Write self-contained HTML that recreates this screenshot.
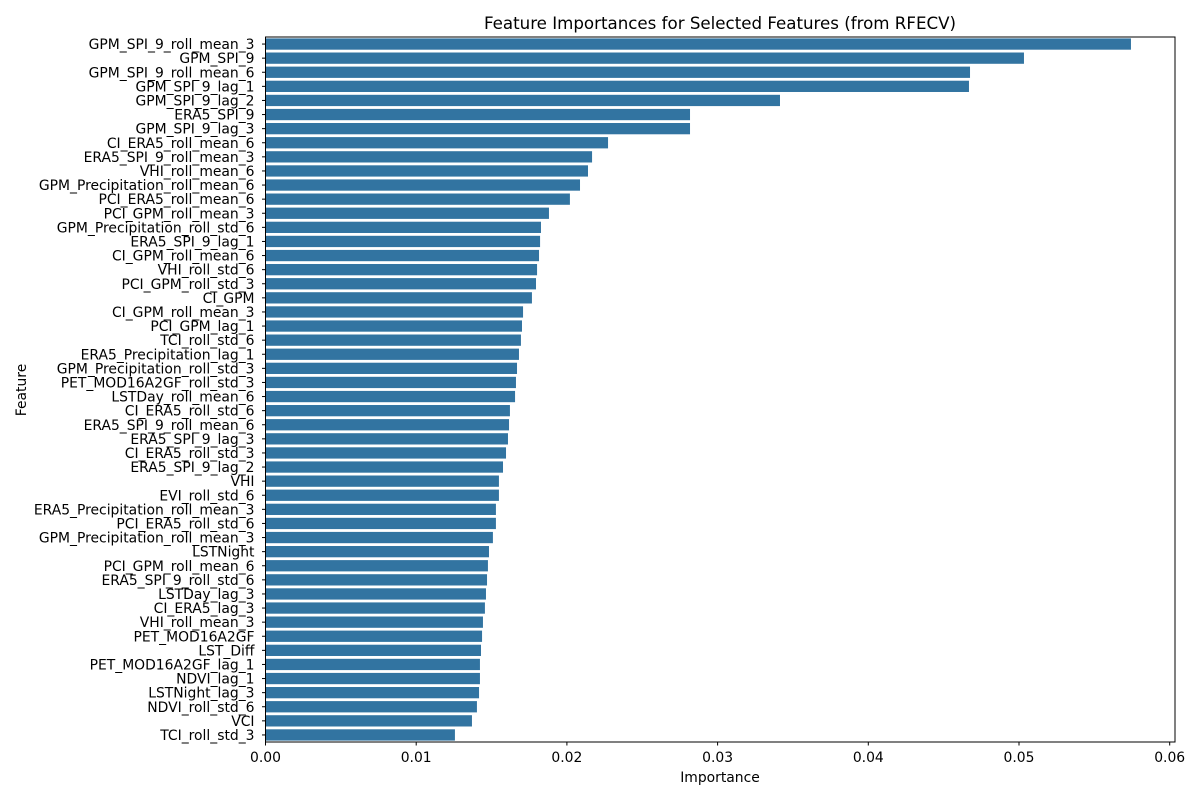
<!DOCTYPE html>
<html><head><meta charset="utf-8"><style>
body{margin:0;background:#fff;}
svg text{font-family:"DejaVu Sans","Liberation Sans",sans-serif;fill:#000;}
</style></head><body>
<svg id="chart" width="1200" height="800">
<text x="720" y="29" font-size="16.67" text-anchor="middle">Feature Importances for Selected Features (from RFECV)</text>
<g id="bars"></g><g id="yticks"></g><g id="xticks"></g>
<rect x="265.5" y="37" width="909.5" height="705" fill="none" stroke="#000" stroke-width="1"/>
<text x="720" y="782" font-size="13.9" text-anchor="middle">Importance</text>
<text x="26" y="390" font-size="13.9" text-anchor="middle" transform="rotate(-90 26 390)">Feature</text>
</svg>
<script>
const features=["GPM_SPI_9_roll_mean_3","GPM_SPI_9","GPM_SPI_9_roll_mean_6","GPM_SPI_9_lag_1","GPM_SPI_9_lag_2","ERA5_SPI_9","GPM_SPI_9_lag_3","CI_ERA5_roll_mean_6","ERA5_SPI_9_roll_mean_3","VHI_roll_mean_6","GPM_Precipitation_roll_mean_6","PCI_ERA5_roll_mean_6","PCI_GPM_roll_mean_3","GPM_Precipitation_roll_std_6","ERA5_SPI_9_lag_1","CI_GPM_roll_mean_6","VHI_roll_std_6","PCI_GPM_roll_std_3","CI_GPM","CI_GPM_roll_mean_3","PCI_GPM_lag_1","TCI_roll_std_6","ERA5_Precipitation_lag_1","GPM_Precipitation_roll_std_3","PET_MOD16A2GF_roll_std_3","LSTDay_roll_mean_6","CI_ERA5_roll_std_6","ERA5_SPI_9_roll_mean_6","ERA5_SPI_9_lag_3","CI_ERA5_roll_std_3","ERA5_SPI_9_lag_2","VHI","EVI_roll_std_6","ERA5_Precipitation_roll_mean_3","PCI_ERA5_roll_std_6","GPM_Precipitation_roll_mean_3","LSTNight","PCI_GPM_roll_mean_6","ERA5_SPI_9_roll_std_6","LSTDay_lag_3","CI_ERA5_lag_3","VHI_roll_mean_3","PET_MOD16A2GF","LST_Diff","PET_MOD16A2GF_lag_1","NDVI_lag_1","LSTNight_lag_3","NDVI_roll_std_6","VCI","TCI_roll_std_3"];
const importances=[0.05743,0.05033,0.04675,0.04668,0.03414,0.02817,0.02817,0.02273,0.02167,0.02140,0.02087,0.02020,0.01881,0.01828,0.01822,0.01815,0.01802,0.01795,0.01768,0.01709,0.01702,0.01695,0.01682,0.01669,0.01662,0.01656,0.01622,0.01616,0.01609,0.01596,0.01576,0.01549,0.01549,0.01529,0.01529,0.01509,0.01483,0.01476,0.01470,0.01463,0.01456,0.01443,0.01437,0.01430,0.01423,0.01423,0.01417,0.01403,0.01370,0.01257];
const xTicks=[0,0.01,0.02,0.03,0.04,0.05,0.06];
const xTickLabels=["0.00","0.01","0.02","0.03","0.04","0.05","0.06"];
const NS="http://www.w3.org/2000/svg";
const x0=265.5,x1=1175,yTop=37,yBot=742;
const xScale=v=>x0+v*15070;
const band=(yBot-yTop)/features.length;
const yScale=i=>yTop+i*band;
function mk(t,a,p){const e=document.createElementNS(NS,t);for(const k in a)e.setAttribute(k,a[k]);p.appendChild(e);return e;}
const gb=document.getElementById('bars'),gy=document.getElementById('yticks'),gx=document.getElementById('xticks');
features.forEach((f,i)=>{
  const r=mk('rect',{x:x0,y:yScale(i)+band*0.1,width:xScale(importances[i])-x0,height:band*0.8,fill:'#3274a1'},gb);
  
  
  const cy=yScale(i)+band/2;
  const tk=mk('line',{x1:x0-3.5,x2:x0,y1:cy,y2:cy,stroke:'#000'},gy);
  
  
  const t=mk('text',{x:x0-11,y:cy+5,'font-size':13.9,'text-anchor':'end'},gy);
  t.textContent=f;
  
  
});
xTicks.forEach((v,i)=>{
  const px=xScale(v);
  const tk=mk('line',{x1:px,x2:px,y1:yBot,y2:yBot+3.5,stroke:'#000'},gx);
  
  
  const t=mk('text',{x:px,y:yBot+20,'font-size':13.9,'text-anchor':'middle'},gx);
  t.textContent=xTickLabels[i];
  
  
});
</script>
</body></html>
